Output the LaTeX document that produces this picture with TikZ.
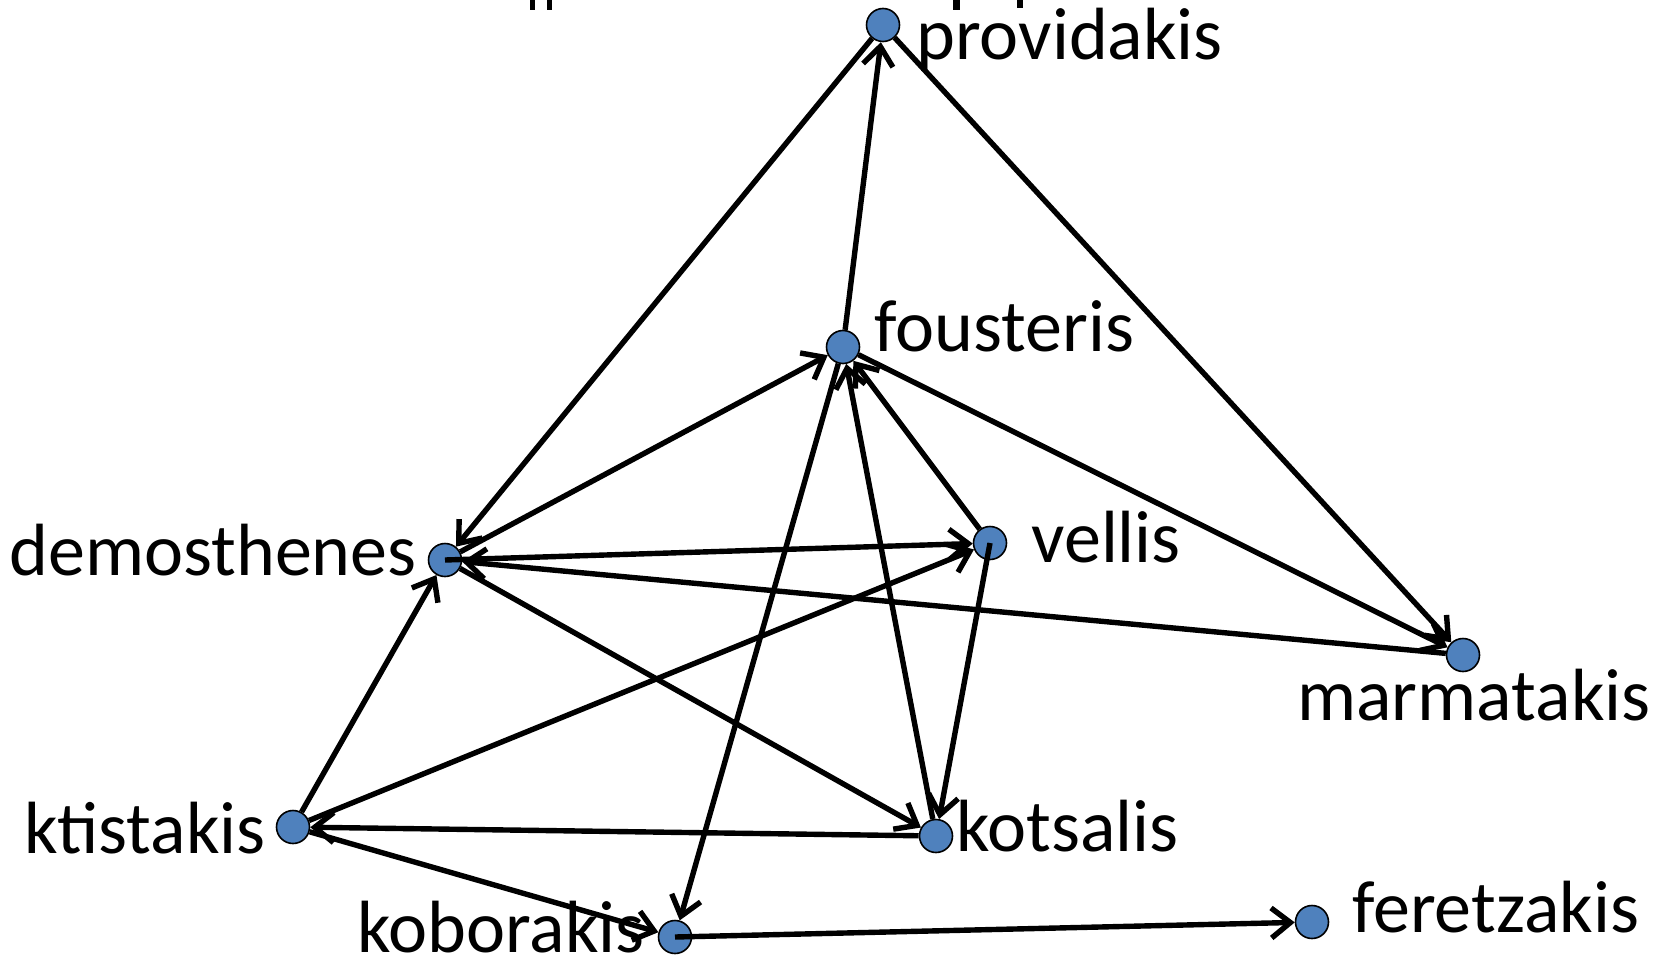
\documentclass[tikz,border=0pt]{standalone}
\usepackage{fontspec}
\setmainfont{Carlito}
\usetikzlibrary{arrows.meta}
\definecolor{nodeblue}{HTML}{4F81BD}
\begin{document}
\begin{tikzpicture}[x=0.5pt,y=-0.5pt,
  vertex/.style={circle,draw=black,line width=0.8pt,fill=nodeblue,
    minimum size=16.5pt,inner sep=0pt},
  lbl/.style={inner sep=0pt,font=\fontsize{37}{37}\selectfont},
  edge/.style={line width=2.7pt,
    -{Straight Barb[length=9.5pt,width=15pt,line width=2.7pt]}}]
\useasboundingbox (0,0) rectangle (1664,963);

% cut-off descenders along the top edge
\fill (530,0) rectangle (535,10);
\fill (547,0) rectangle (552,10);
\fill (953,0) rectangle (960,10);
\fill (1017,0) rectangle (1023,8);

% people
\node[vertex] (prov) at (883,25)  {};
\node[vertex] (fous) at (843,347) {};
\node[vertex] (dem)  at (445,560) {};
\node[vertex] (vel)  at (990,543) {};
\node[vertex] (mar)  at (1463,655) {};
\node[vertex] (kti)  at (293,827) {};
\node[vertex] (kot)  at (936,836) {};
\node[vertex] (kob)  at (675,937) {};
\node[vertex] (fer)  at (1312,922) {};

% names
\node[lbl,anchor=base west] (provL) at (916,60)  {providakis};
\node[lbl,anchor=base west] (fousL) at (874,351) {fousteris};
\node[lbl,anchor=base west] (velL)  at (1031,562) {vellis};
\node[lbl,anchor=base east] (demL)  at (417,575) {demosthenes};
\node[lbl,anchor=base west] (marL)  at (1297,720) {marmatakis};
\node[lbl,anchor=base east] (ktiL)  at (266,853) {ktistakis};
\node[lbl,anchor=base west] (kotL)  at (956,851) {kotsalis};
\node[lbl,anchor=base east] (kobL)  at (645,952) {koborakis};
\node[lbl,anchor=base west] (ferL)  at (1352,932) {feretzakis};

% relations
\draw[edge] (prov) -- (dem);
\draw[edge] (fous) -- (prov);
\draw[edge] (prov) -- (mar);
\draw[edge] (dem) -- (fous);
\draw[edge] (dem.center) -- (vel);
\draw[edge] (mar) -- (dem);
\draw[edge] (dem) -- (kot);
\draw[edge] (kti) -- (dem);
\draw[edge] (kti) -- (vel);
\draw[edge] (kot) -- (kti);
\draw[edge] (kti) -- (kob);
\draw[edge] (fous) -- (kob);
\draw[edge] (kot) -- (fous);
\draw[edge] (vel) -- (fous);
\draw[edge] (fous) -- (mar);
\draw[edge] (vel.center) -- (kot);
\draw[edge] (kob.center) -- (fer);
\end{tikzpicture}
\end{document}
